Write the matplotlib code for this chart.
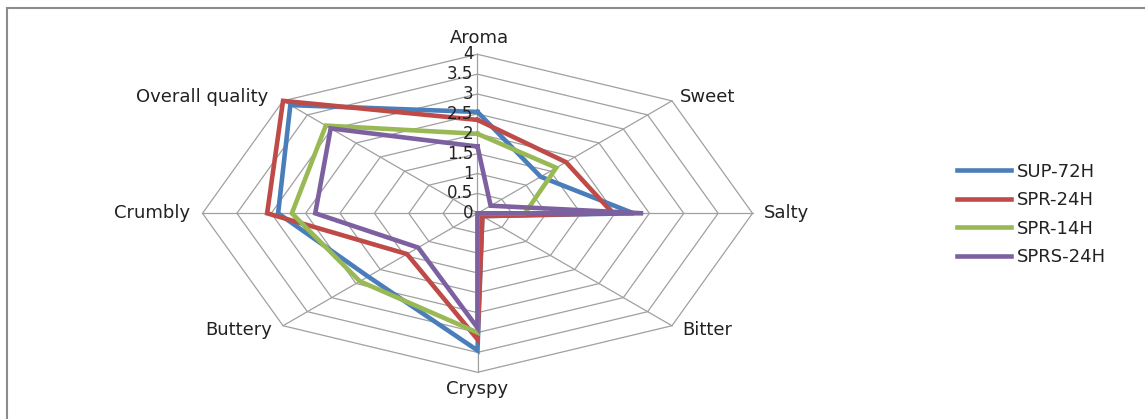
import numpy as np
import matplotlib
matplotlib.use("Agg")
import matplotlib.pyplot as plt
from matplotlib.patches import Rectangle

categories = ['Aroma', 'Sweet', 'Salty', 'Bitter', 'Cryspy', 'Buttery', 'Crumbly', 'Overall quality']
series_names = ['SUP-72H', 'SPR-24H', 'SPR-14H', 'SPRS-24H']
sup_72h = [2.55, 1.30, 2.27, 0.10, 3.45, 2.25, 2.90, 3.85]
spr_24h = [2.35, 1.82, 1.97, 0.10, 3.17, 1.45, 3.06, 4.00]
spr_14h = [2.00, 1.62, 0.69, 0.00, 3.00, 2.42, 2.70, 3.12]
sprs_24h = [1.68, 0.27, 2.41, 0.00, 2.88, 1.22, 2.36, 3.02]
tick_values = [0, 0.5, 1, 1.5, 2, 2.5, 3, 3.5, 4]
tick_labels = ['0', '0.5', '1', '1.5', '2', '2.5', '3', '3.5', '4']

colors = ['#4A7EBB', '#BE4B48', '#98B954', '#7D60A0']
W, H = 1145, 419
fig = plt.figure(figsize=(W / 100, H / 100), dpi=100)
ax = fig.add_axes([0, 0, 1, 1])
ax.set_axis_off()

# pixel geometry of the (stretched) radar
cx, cy = 477.5, 213.3
sx, sy = 68.75, 39.75  # px per unit horizontally / vertically
ax.set_xlim(-cx / sx, (W - cx) / sx)
ax.set_ylim(-(H - cy) / sy, cy / sy)

n = len(categories)
theta = np.arange(n) * 2 * np.pi / n
ux, uy = np.sin(theta), np.cos(theta)
rmax = tick_values[-1]

grid_c = '#A0A0A0'
for r in tick_values[1:]:
    xs = np.append(r * ux, r * ux[0])
    ys = np.append(r * uy, r * uy[0])
    ax.plot(xs, ys, color=grid_c, lw=0.9, zorder=1)
for i in range(n):
    ax.plot([0, rmax * ux[i]], [0, rmax * uy[i]], color=grid_c, lw=0.9, zorder=1)

for name, vals, c in zip(series_names, [sup_72h, spr_24h, spr_14h, sprs_24h], colors):
    v = np.array(vals)
    xs = np.append(v * ux, v[0] * ux[0])
    ys = np.append(v * uy, v[0] * uy[0])
    ax.plot(xs, ys, color=c, lw=3.3, label=name, zorder=3, solid_joinstyle='miter')

# tick labels along the Aroma axis
for tv, tl in zip(tick_values, tick_labels):
    ax.annotate(tl, (0, tv), xytext=(-4, 0), textcoords='offset pixels',
                ha='right', va='center', fontsize=12, color='#222222', zorder=4)

# category labels
offsets = [(2, 16, 'center'), (8, 4, 'left'), (11, 0, 'left'), (10, -4, 'left'),
           (0, -17, 'center'), (-11, -4, 'right'), (-12, 0, 'right'), (-15, 4, 'right')]
for i, cat in enumerate(categories):
    dx, dy, ha = offsets[i]
    ax.annotate(cat, (rmax * ux[i], rmax * uy[i]), xytext=(dx, dy), textcoords='offset pixels',
                ha=ha, va='center', fontsize=13, color='#222222')

leg = fig.legend(loc='center left', bbox_to_anchor=(957 / W, 1 - 214.5 / H), frameon=False,
                 fontsize=13, handlelength=3.0, handletextpad=0.3, labelspacing=0.58,
                 borderaxespad=0, borderpad=0)
for t in leg.get_texts():
    t.set_color('#222222')

# outer frame
fig.add_artist(Rectangle((7 / W, -0.1), 1.2, 1.1 - 8 / H, transform=fig.transFigure,
                         fill=False, edgecolor='#8C8C8C', lw=1.5))

fig.savefig('out.png', dpi=100)
